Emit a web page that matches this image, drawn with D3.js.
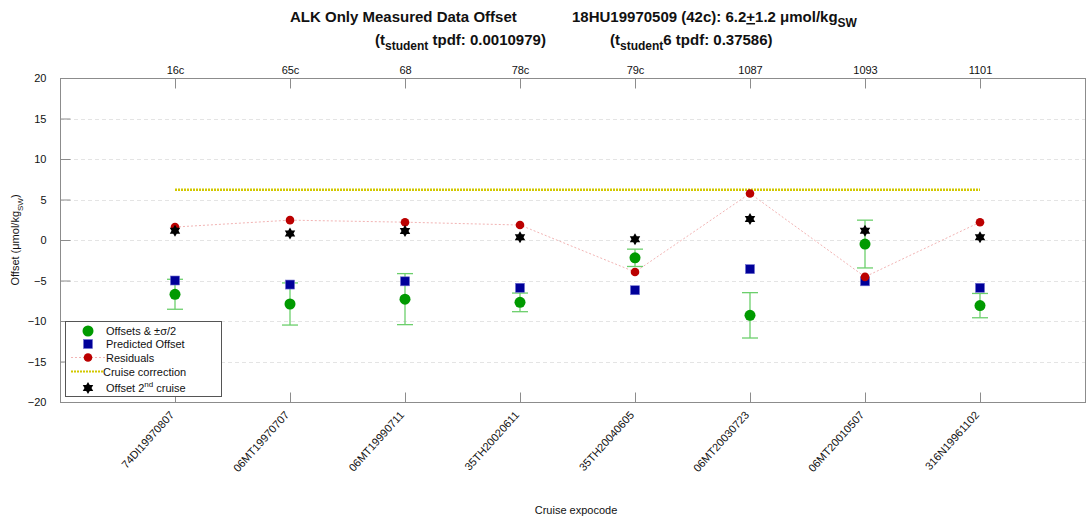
<!DOCTYPE html>
<html>
<head>
<meta charset="utf-8">
<script src="https://cdn.jsdelivr.net/npm/d3@7"></script>
<style>
  html, body { margin: 0; padding: 0; background: #fff; }
  svg { display: block; font-family: "Liberation Sans", Arial, Helvetica, sans-serif; }
</style>
</head>
<body>
<svg id="chart" width="1086" height="518"></svg>
<script>
// Cruise expocodes (bottom axis) and cruise numbers (top axis)
const cruises = ["74DI19970807", "06MT19970707", "06MT19990711", "35TH20020611",
                 "35TH20040605", "06MT20030723", "06MT20010507", "316N19961102"];
const cruiseIds = ["16c", "65c", "68", "78c", "79c", "1087", "1093", "1101"];

// Offsets (µmol/kg) and their ±σ/2 half-widths
const offsets   = [-6.7, -7.9, -7.3, -7.7, -2.2, -9.3, -0.5, -8.1];
const sigmaHalf = [1.85, 2.6, 3.15, 1.15, 1.07, 2.8, 2.95, 1.5];
// Predicted offsets
const predicted = [-5.0, -5.5, -5.1, -5.9, -6.2, -3.6, -5.1, -5.9];
// Residuals
const residuals = [1.6, 2.45, 2.2, 1.85, -3.95, 5.75, -4.55, 2.2];
// Offset of the 2nd cruise
const secondCruise = [1.15, 0.8, 1.1, 0.35, 0.1, 2.6, 1.15, 0.35];
// Cruise correction applied
const correction = 6.2;

const yTicks = [-20, -15, -10, -5, 0, 5, 10, 15, 20];

const svg = d3.select("#chart");
const plotL = 60, plotR = 1085, plotT = 78, plotB = 402;

const x = d3.scaleLinear().domain([0, 9]).range([plotL, plotL + 115 * 9]);
const y = d3.scaleLinear().domain([-20, 20]).range([plotB, plotT]);
const idx = d3.range(cruises.length);
const xi = i => x(i + 1);

const axisColor = "#8c8c8c";

// Grid lines
svg.append("g").selectAll("line")
  .data(yTicks.filter(t => t > -20 && t < 20))
  .join("line")
  .attr("x1", plotL).attr("x2", plotR)
  .attr("y1", d => Math.round(y(d)) + 0.5).attr("y2", d => Math.round(y(d)) + 0.5)
  .attr("stroke", "#e4e4e4").attr("stroke-width", 1)
  .attr("stroke-dasharray", "4,3");

// Axis box
svg.append("rect")
  .attr("x", plotL + 0.5).attr("y", plotT + 0.5)
  .attr("width", plotR - plotL).attr("height", plotB - plotT)
  .attr("fill", "none").attr("stroke", axisColor).attr("stroke-width", 1);

// Left axis: inward ticks
const yAxis = d3.axisLeft(y).tickValues(yTicks).tickSize(-10).tickPadding(14).tickFormat(d3.format("d"));
const gy = svg.append("g").attr("transform", `translate(${plotL + 0.5},0)`).call(yAxis);
gy.select(".domain").remove();
gy.selectAll(".tick line").attr("stroke", axisColor);
gy.selectAll(".tick text").attr("font-size", 11).attr("fill", "#111")
  .attr("font-family", "Liberation Sans, Arial, sans-serif");

// Bottom axis: inward ticks, rotated expocodes
const xb = d3.axisBottom(x).tickValues(idx.map(i => i + 1)).tickSize(-10).tickFormat(d => cruises[d - 1]);
const gxb = svg.append("g").attr("transform", `translate(0,${plotB + 0.5})`).call(xb);
gxb.select(".domain").remove();
gxb.selectAll(".tick line").attr("stroke", axisColor);
gxb.selectAll(".tick text")
  .attr("font-size", 11).attr("fill", "#111")
  .attr("font-family", "Liberation Sans, Arial, sans-serif")
  .attr("text-anchor", "end")
  .attr("dy", null)
  .attr("transform", "translate(-3,11) rotate(-48)");

// Top axis: inward ticks, cruise numbers
const xt = d3.axisTop(x).tickValues(idx.map(i => i + 1)).tickSize(-10).tickPadding(5).tickFormat(d => cruiseIds[d - 1]);
const gxt = svg.append("g").attr("transform", `translate(0,${plotT + 0.5})`).call(xt);
gxt.select(".domain").remove();
gxt.selectAll(".tick line").attr("stroke", axisColor);
gxt.selectAll(".tick text").attr("font-size", 11).attr("fill", "#111")
  .attr("font-family", "Liberation Sans, Arial, sans-serif");

// Cruise correction line
svg.append("line")
  .attr("x1", xi(0)).attr("x2", xi(cruises.length - 1))
  .attr("y1", y(correction)).attr("y2", y(correction))
  .attr("stroke", "#d2c800").attr("stroke-width", 2.6)
  .attr("stroke-dasharray", "2,1");

// Error bars (±σ/2)
const eb = svg.append("g").attr("stroke", "#6ccf6c").attr("stroke-width", 1.3);
eb.selectAll("line.v").data(idx).join("line").attr("class", "v")
  .attr("x1", xi).attr("x2", xi)
  .attr("y1", i => y(offsets[i] + sigmaHalf[i])).attr("y2", i => y(offsets[i] - sigmaHalf[i]));
eb.selectAll("line.t").data(idx).join("line").attr("class", "t")
  .attr("x1", i => xi(i) - 8).attr("x2", i => xi(i) + 8)
  .attr("y1", i => y(offsets[i] + sigmaHalf[i])).attr("y2", i => y(offsets[i] + sigmaHalf[i]));
eb.selectAll("line.b").data(idx).join("line").attr("class", "b")
  .attr("x1", i => xi(i) - 8).attr("x2", i => xi(i) + 8)
  .attr("y1", i => y(offsets[i] - sigmaHalf[i])).attr("y2", i => y(offsets[i] - sigmaHalf[i]));

// Offsets
svg.append("g").selectAll("circle").data(idx).join("circle")
  .attr("cx", xi).attr("cy", i => y(offsets[i])).attr("r", 5.5)
  .attr("fill", "#009a00");

// Predicted offsets
svg.append("g").selectAll("rect").data(idx).join("rect")
  .attr("x", i => xi(i) - 4.5).attr("y", i => y(predicted[i]) - 4.5)
  .attr("width", 9).attr("height", 9)
  .attr("fill", "#000099").attr("stroke", "#6f6fd0").attr("stroke-width", 0.6);

// Residuals: dotted connecting line + dots
svg.append("path")
  .datum(idx)
  .attr("d", d3.line().x(xi).y(i => y(residuals[i])))
  .attr("fill", "none").attr("stroke", "#f2b4b4").attr("stroke-width", 1)
  .attr("stroke-dasharray", "2,2");
svg.append("g").selectAll("circle").data(idx).join("circle")
  .attr("cx", xi).attr("cy", i => y(residuals[i])).attr("r", 4.3)
  .attr("fill", "#bb0000");

// Six-pointed star symbol
const hexagram = {
  draw(ctx, size) {
    const R = Math.sqrt(size / 2.2), r = R * 0.58;
    for (let k = 0; k < 12; k++) {
      const a = -Math.PI / 2 + k * Math.PI / 6;
      const rad = k % 2 === 0 ? R : r;
      const px = rad * Math.cos(a), py = rad * Math.sin(a);
      if (k === 0) ctx.moveTo(px, py); else ctx.lineTo(px, py);
    }
    ctx.closePath();
  }
};
const starPath = d3.symbol().type(hexagram).size(80);

svg.append("g").selectAll("path").data(idx).join("path")
  .attr("transform", i => `translate(${xi(i)},${y(secondCruise[i])})`)
  .attr("d", starPath).attr("fill", "#000");

// Legend
const lg = svg.append("g");
lg.append("rect").attr("x", 65.5).attr("y", 321.5).attr("width", 156).attr("height", 75)
  .attr("fill", "#fff").attr("stroke", "#555").attr("stroke-width", 1);
const rows = [331, 344, 357.5, 371.5, 388];
const labelX = 106;
lg.append("circle").attr("cx", 88).attr("cy", rows[0]).attr("r", 5.5).attr("fill", "#009a00");
lg.append("rect").attr("x", 83.5).attr("y", rows[1] - 4.5).attr("width", 9).attr("height", 9)
  .attr("fill", "#000099").attr("stroke", "#6f6fd0").attr("stroke-width", 0.6);
lg.append("line").attr("x1", 71).attr("x2", 105).attr("y1", rows[2]).attr("y2", rows[2])
  .attr("stroke", "#f2b4b4").attr("stroke-dasharray", "2,2");
lg.append("circle").attr("cx", 88).attr("cy", rows[2]).attr("r", 4.3).attr("fill", "#bb0000");
lg.append("line").attr("x1", 71).attr("x2", 103).attr("y1", rows[3]).attr("y2", rows[3])
  .attr("stroke", "#d2c800").attr("stroke-width", 2.2).attr("stroke-dasharray", "2,1");
lg.append("path").attr("transform", `translate(88,${rows[4]})`).attr("d", starPath).attr("fill", "#000");

const lt = (yy) => lg.append("text").attr("x", labelX).attr("y", yy + 4).attr("font-size", 11).attr("fill", "#111");
lt(rows[0]).text("Offsets & ±σ/2");
lt(rows[1]).text("Predicted Offset");
lt(rows[2]).text("Residuals");
lg.append("text").attr("x", 103).attr("y", rows[3] + 4).attr("font-size", 11).attr("fill", "#111").text("Cruise correction");
const t5 = lt(rows[4]);
t5.append("tspan").text("Offset 2");
t5.append("tspan").attr("dy", -5).attr("font-size", 8).text("nd");
t5.append("tspan").attr("dy", 5).text(" cruise");

// Axis titles
const yl = svg.append("text")
  .attr("transform", "translate(19,240) rotate(-90)")
  .attr("text-anchor", "middle").attr("font-size", 11).attr("fill", "#111");
yl.append("tspan").text("Offset (μmol/kg");
yl.append("tspan").attr("dy", 4).attr("font-size", 8).text("SW");
yl.append("tspan").attr("dy", -4).text(")");

svg.append("text").attr("x", 576).attr("y", 514).attr("text-anchor", "middle")
  .attr("font-size", 11).attr("fill", "#111").text("Cruise expocode");

// Title
const title = svg.append("g").attr("font-weight", "bold").attr("font-size", 15).attr("fill", "#111");
title.append("text").attr("x", 290).attr("y", 22).text("ALK Only Measured Data Offset");
const t2 = title.append("text").attr("x", 572).attr("y", 22);
t2.append("tspan").text("18HU19970509 (42c): 6.2");
t2.append("tspan").attr("text-decoration", "underline").text("+");
t2.append("tspan").text("1.2 μmol/kg");
t2.append("tspan").attr("dy", 5).attr("font-size", 12).text("SW");

const t3 = title.append("text").attr("x", 375).attr("y", 45);
t3.append("tspan").text("(t");
t3.append("tspan").attr("dy", 5).attr("font-size", 12).text("student");
t3.append("tspan").attr("dy", -5).text(" tpdf: 0.0010979)");

const t4 = title.append("text").attr("x", 610).attr("y", 45);
t4.append("tspan").text("(t");
t4.append("tspan").attr("dy", 5).attr("font-size", 12).text("student");
t4.append("tspan").attr("dy", -5).text("6 tpdf: 0.37586)");
</script>
</body>
</html>
